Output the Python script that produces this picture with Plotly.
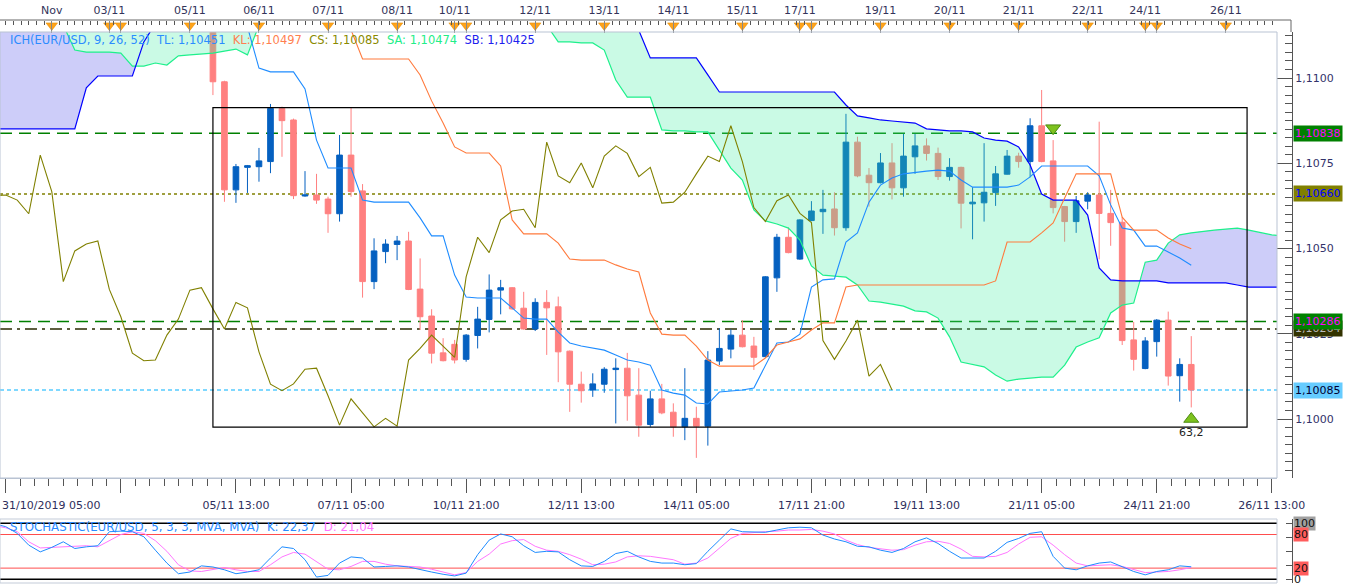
import numpy as np
import plotly.graph_objects as go

# EUR/USD H4 candles, index 0 = 05/11 05:00 (weekend gaps removed)
candle_idx = list(range(86))
opens = [1.11150, 1.10989, 1.10672, 1.10738, 1.10740, 1.10755, 1.10911, 1.10877, 1.10654, 1.10657,
         1.10645, 1.10602, 1.10774, 1.10669, 1.10403, 1.10491, 1.10512, 1.10522, 1.10381, 1.10302,
         1.10194, 1.10219, 1.10175, 1.10245, 1.10292, 1.10378, 1.10385, 1.10325, 1.10264, 1.10342,
         1.10329, 1.10199, 1.10102, 1.10085, 1.10102, 1.10145, 1.10149, 1.10070, 1.09984, 1.10059,
         1.10020, 1.09977, 1.10002, 1.09979, 1.10170, 1.10205, 1.10246, 1.10214, 1.10183, 1.10414,
         1.10533, 1.10469, 1.10582, 1.10608, 1.10616, 1.10561, 1.10812, 1.10715, 1.10693, 1.10751,
         1.10678, 1.10769, 1.10801, 1.10779, 1.10711, 1.10738, 1.10631, 1.10634, 1.10664, 1.10718,
         1.10771, 1.10755, 1.10860, 1.10757, 1.10623, 1.10579, 1.10639, 1.10657, 1.10603, 1.10577,
         1.10232, 1.10148, 1.10227, 1.10290, 1.10127, 1.10160]
highs = [1.11170, 1.10992, 1.10748, 1.10745, 1.10795, 1.10924, 1.10916, 1.10881, 1.10727, 1.10719,
         1.10652, 1.10833, 1.10913, 1.10689, 1.10530, 1.10527, 1.10537, 1.10549, 1.10471, 1.10322,
         1.10237, 1.10232, 1.10249, 1.10329, 1.10424, 1.10408, 1.10387, 1.10373, 1.10354, 1.10378,
         1.10359, 1.10201, 1.10139, 1.10134, 1.10152, 1.10178, 1.10194, 1.10149, 1.10083, 1.10103,
         1.10046, 1.10149, 1.10036, 1.10199, 1.10266, 1.10263, 1.10290, 1.10241, 1.10419, 1.10543,
         1.10562, 1.10586, 1.10639, 1.10672, 1.10665, 1.10895, 1.10828, 1.10736, 1.10780, 1.10809,
         1.10836, 1.10836, 1.10823, 1.10796, 1.10765, 1.10740, 1.10680, 1.10809, 1.10742, 1.10789,
         1.10781, 1.10882, 1.10965, 1.10818, 1.10625, 1.10654, 1.10665, 1.10872, 1.10672, 1.10593,
         1.10285, 1.10240, 1.10293, 1.10315, 1.10178, 1.10243]
lows = [1.10950, 1.10637, 1.10634, 1.10663, 1.10696, 1.10721, 1.10769, 1.10645, 1.10652, 1.10631,
        1.10546, 1.10579, 1.10652, 1.10356, 1.10381, 1.10457, 1.10466, 1.10378, 1.10261, 1.10163,
        1.10169, 1.10163, 1.10168, 1.10207, 1.10254, 1.10307, 1.10320, 1.10262, 1.10258, 1.10188,
        1.10108, 1.10021, 1.10048, 1.10065, 1.10077, 1.09987, 1.09995, 1.09948, 1.09977, 1.10014,
        1.09948, 1.09938, 1.09886, 1.09922, 1.10158, 1.10178, 1.10210, 1.10144, 1.10181, 1.10373,
        1.10486, 1.10467, 1.10580, 1.10543, 1.10538, 1.10552, 1.10709, 1.10623, 1.10691, 1.10644,
        1.10652, 1.10719, 1.10758, 1.10701, 1.10699, 1.10559, 1.10527, 1.10579, 1.10625, 1.10717,
        1.10737, 1.10709, 1.10753, 1.10603, 1.10520, 1.10546, 1.10615, 1.10468, 1.10508, 1.10217,
        1.10142, 1.10146, 1.10183, 1.10098, 1.10051, 1.10034]
closes = [1.10989, 1.10672, 1.10740, 1.10743, 1.10757, 1.10911, 1.10875, 1.10655, 1.10657, 1.10642,
          1.10602, 1.10774, 1.10667, 1.10403, 1.10493, 1.10513, 1.10522, 1.10380, 1.10300, 1.10193,
          1.10171, 1.10173, 1.10246, 1.10293, 1.10378, 1.10385, 1.10323, 1.10264, 1.10342, 1.10326,
          1.10197, 1.10102, 1.10083, 1.10103, 1.10146, 1.10149, 1.10068, 1.09982, 1.10059, 1.10018,
          1.09977, 1.10002, 1.09979, 1.10173, 1.10207, 1.10246, 1.10212, 1.10181, 1.10417, 1.10533,
          1.10488, 1.10584, 1.10610, 1.10615, 1.10561, 1.10812, 1.10713, 1.10693, 1.10751, 1.10678,
          1.10771, 1.10801, 1.10779, 1.10711, 1.10738, 1.10633, 1.10636, 1.10665, 1.10719, 1.10771,
          1.10755, 1.10860, 1.10755, 1.10620, 1.10579, 1.10640, 1.10657, 1.10603, 1.10576, 1.10230,
          1.10175, 1.10229, 1.10290, 1.10126, 1.10160, 1.10085]

# Ichimoku lines as displayed (tenkan from candle 3, kijun from candle 12)
tenkan_start = 3
tenkan = [1.11150, 1.11029, 1.11018, 1.11018, 1.11018, 1.10968, 1.10818, 1.10736, 1.10736, 1.10736,
          1.10642, 1.10636, 1.10636, 1.10636, 1.10636, 1.10590, 1.10537, 1.10537, 1.10422, 1.10358,
          1.10355, 1.10355, 1.10355, 1.10326, 1.10296, 1.10293, 1.10293, 1.10255, 1.10223, 1.10214,
          1.10208, 1.10202, 1.10188, 1.10173, 1.10167, 1.10158, 1.10085, 1.10076, 1.10070, 1.10047,
          1.10044, 1.10079, 1.10082, 1.10085, 1.10091, 1.10155, 1.10223, 1.10226, 1.10249, 1.10387,
          1.10408, 1.10411, 1.10519, 1.10546, 1.10636, 1.10686, 1.10707, 1.10719, 1.10724, 1.10727,
          1.10730, 1.10727, 1.10701, 1.10680, 1.10680, 1.10680, 1.10680, 1.10686, 1.10710, 1.10742,
          1.10742, 1.10742, 1.10742, 1.10742, 1.10713, 1.10628, 1.10560, 1.10554, 1.10507, 1.10507,
          1.10490, 1.10472, 1.10451]
kijun_start = 12
kijun = [1.11141, 1.11056, 1.11056, 1.11056, 1.11056, 1.11056, 1.11009, 1.10933, 1.10868, 1.10798,
         1.10780, 1.10780, 1.10780, 1.10742, 1.10584, 1.10543, 1.10543, 1.10543, 1.10516, 1.10469,
         1.10466, 1.10466, 1.10466, 1.10452, 1.10440, 1.10431, 1.10311, 1.10249, 1.10246, 1.10246,
         1.10214, 1.10173, 1.10155, 1.10155, 1.10155, 1.10155, 1.10179, 1.10217, 1.10226, 1.10235,
         1.10261, 1.10282, 1.10282, 1.10387, 1.10393, 1.10393, 1.10393, 1.10393, 1.10393, 1.10393,
         1.10393, 1.10393, 1.10393, 1.10393, 1.10393, 1.10393, 1.10405, 1.10519, 1.10519, 1.10519,
         1.10546, 1.10575, 1.10648, 1.10719, 1.10719, 1.10719, 1.10719, 1.10592, 1.10554, 1.10554,
         1.10554, 1.10531, 1.10513, 1.10499]

# senkou spans, index -19 .. 93 (values above 1.1115 run off the top of the chart)
span_start = -19
span_a = [1.11155, 1.11155, 1.11155, 1.11155, 1.11155, 1.11155, 1.11155, 1.11082, 1.11076, 1.11076,
          1.11076, 1.11073, 1.11035, 1.11035, 1.11044, 1.11038, 1.11065, 1.11068, 1.11071, 1.11073,
          1.11079, 1.11085, 1.11068, 1.11155, 1.11155, 1.11155, 1.11155, 1.11155, 1.11155, 1.11155,
          1.11155, 1.11155, 1.11155, 1.11155, 1.11155, 1.11155, 1.11155, 1.11155, 1.11155, 1.11155,
          1.11155, 1.11155, 1.11155, 1.11155, 1.11155, 1.11155, 1.11155, 1.11155, 1.11155, 1.11106,
          1.11106, 1.11103, 1.11103, 1.11082, 1.10994, 1.10944, 1.10944, 1.10944, 1.10848, 1.10845,
          1.10845, 1.10842, 1.10842, 1.10789, 1.10736, 1.10701, 1.10613, 1.10581, 1.10572, 1.10560,
          1.10525, 1.10449, 1.10422, 1.10419, 1.10416, 1.10393, 1.10346, 1.10343, 1.10337, 1.10331,
          1.10317, 1.10314, 1.10296, 1.10241, 1.10167, 1.10161, 1.10153, 1.10129, 1.10111, 1.10117,
          1.10120, 1.10123, 1.10123, 1.10158, 1.10211, 1.10226, 1.10238, 1.10311, 1.10334, 1.10340,
          1.10460, 1.10466, 1.10516, 1.10540, 1.10546, 1.10551, 1.10554, 1.10557, 1.10560, 1.10554,
          1.10546, 1.10540, 1.10537]
span_b = [1.10851, 1.10851, 1.10851, 1.10851, 1.10851, 1.10851, 1.10851, 1.10851, 1.10971, 1.11006,
          1.11006, 1.11006, 1.11006, 1.11106, 1.11160, 1.11160, 1.11160, 1.11160, 1.11160, 1.11160,
          1.11160, 1.11160, 1.11160, 1.11160, 1.11160, 1.11160, 1.11160, 1.11160, 1.11160, 1.11160,
          1.11160, 1.11160, 1.11160, 1.11160, 1.11160, 1.11160, 1.11160, 1.11160, 1.11160, 1.11160,
          1.11160, 1.11160, 1.11160, 1.11160, 1.11160, 1.11160, 1.11160, 1.11160, 1.11160, 1.11160,
          1.11160, 1.11160, 1.11160, 1.11160, 1.11160, 1.11160, 1.11140, 1.11059, 1.11059, 1.11059,
          1.11059, 1.11059, 1.11009, 1.10959, 1.10959, 1.10959, 1.10959, 1.10959, 1.10959, 1.10959,
          1.10959, 1.10959, 1.10959, 1.10959, 1.10921, 1.10889, 1.10883, 1.10877, 1.10874, 1.10871,
          1.10868, 1.10851, 1.10848, 1.10845, 1.10845, 1.10842, 1.10824, 1.10818, 1.10815, 1.10798,
          1.10745, 1.10660, 1.10642, 1.10642, 1.10642, 1.10598, 1.10443, 1.10408, 1.10405, 1.10405,
          1.10405, 1.10405, 1.10399, 1.10399, 1.10399, 1.10399, 1.10399, 1.10399, 1.10393, 1.10387,
          1.10387, 1.10387, 1.10387]
cloud_cap = 1.11170

# stochastic 5,3,3 from index -19
stoch_start = -19
stoch_k = [99, 94, 82, 61, 49, 57, 67, 55, 58, 60, 85, 86, 85, 76, 52, 29, 10, 13, 24,
           22, 17, 10, 13, 17, 38, 58, 55, 35, 4, 7, 29, 40, 38, 22, 23, 24, 22, 17, 13,
           9, 6, 11, 44, 70, 81, 76, 60, 48, 50, 49, 35, 24, 23, 32, 46, 50, 40, 32, 29,
           29, 26, 28, 50, 70, 90, 85, 84, 84, 88, 92, 93, 92, 79, 72, 67, 59, 58, 52, 48,
           55, 67, 74, 64, 50, 38, 38, 38, 50, 66, 73, 82, 85, 41, 20, 17, 24, 29, 31, 23,
           14, 8, 14, 17, 24, 22.37]
stoch_d = [96, 92, 85, 67, 56, 57, 58, 60, 60, 58, 69, 80, 85, 82, 69, 50, 26, 15, 14,
           17, 21, 17, 14, 14, 26, 40, 48, 45, 32, 18, 17, 23, 32, 32, 27, 24, 23, 22, 18,
           13, 8, 12, 32, 45, 63, 69, 71, 59, 52, 50, 44, 36, 26, 27, 31, 40, 42, 41, 38,
           35, 27, 29, 38, 55, 73, 82, 84, 85, 86, 88, 88, 89, 86, 81, 70, 62, 57, 54, 52,
           53, 61, 67, 68, 64, 54, 41, 40, 41, 48, 63, 75, 76, 61, 44, 29, 24, 25, 26, 23,
           17, 12, 13, 14, 17, 21.04]

# horizontal levels and their tag colours
levels = [1.10838, 1.10660, 1.10286, 1.10264, 1.10085]
level_text = ['1,10838', '1,10660', '1,10286', '1,10264', '1,10085']
level_color = ['#008000', '#808000', '#008000', '#2a2a00', '#55ccff']
level_dash = ['12px,7px', '3px,3px', '12px,7px', '12px,5px,3px,5px', '4px,3px']
tag_bg = ['#008000', '#808000', '#008000', '#333300', '#66ccff']
tag_fg = ['#ff00ff', '#0000ff', '#ff00ff', '#bbbbbb', '#000033']

box_x = [0, 89.85]
box_y = [1.09976, 1.10913]

# calendar events on the top strip
event_idx = [-14, -9, -8, -2, 4, 10, 16, 21, 22, 28, 34, 40, 46, 51, 52, 58, 64, 70, 76, 81, 82, 88]
event_lab = ['Nov', '03/11', '', '05/11', '06/11', '07/11', '08/11', '10/11', '', '12/11', '13/11',
             '14/11', '15/11', '17/11', '', '19/11', '20/11', '21/11', '22/11', '24/11', '', '26/11']

time_idx = [-18, -8, 2, 12, 22, 32, 42, 52, 62, 72, 82, 92]
time_lab = ['', '', '05/11 13:00', '07/11 05:00', '10/11 21:00', '12/11 13:00', '14/11 05:00',
            '17/11 21:00', '19/11 13:00', '21/11 05:00', '24/11 21:00', '26/11 13:00']

sig_down = ([73], [1.10853])
sig_up = ([85], [1.10000], ['63,2'])

X_RANGE = [-18.5, 92.45]
UP = '#0560c0'
DOWN = '#ff8080'
MINT = 'rgba(60,235,160,0.27)'
LILAC = 'rgba(90,90,235,0.30)'


def split_cloud(xs, a, b):
    d = np.asarray(a) - np.asarray(b)
    segs, cur = [], None
    for k in range(len(xs)):
        s = bool(d[k] >= 0)
        if cur is None:
            cur = [s, [xs[k]], [a[k]], [b[k]]]
            continue
        if s != cur[0]:
            t = d[k - 1] / (d[k - 1] - d[k])
            xc = xs[k - 1] + t * (xs[k] - xs[k - 1])
            yc = a[k - 1] + t * (a[k] - a[k - 1])
            cur[1].append(xc); cur[2].append(yc); cur[3].append(yc)
            segs.append(cur)
            cur = [s, [xc], [yc], [yc]]
        cur[1].append(xs[k]); cur[2].append(a[k]); cur[3].append(b[k])
    segs.append(cur)
    return segs


fig = go.Figure()

fig.add_trace(go.Candlestick(
    x=candle_idx, open=opens, high=highs, low=lows, close=closes,
    increasing=dict(line=dict(color=UP, width=1), fillcolor=UP),
    decreasing=dict(line=dict(color=DOWN, width=1), fillcolor=DOWN),
    whiskerwidth=0, hoverinfo='skip'))

span_x = list(range(span_start, span_start + len(span_a)))
segs = split_cloud(span_x, span_a, span_b)
for k, (above, xs, a, b) in enumerate(segs):
    if not above:
        # the platform keeps the band open up to the top before span B re-enters
        b = [cloud_cap if x <= -6 else v for x, v in zip(xs, b)]
    fig.add_trace(go.Scatter(x=xs + xs[::-1], y=a + b[::-1], fill='toself', mode='none',
                             fillcolor=LILAC if above else MINT, hoverinfo='skip'))
    if k == 0:
        xa = [x for x in xs if x >= -13]
        ya = [v for x, v in zip(xs, a) if x >= -13]
        fig.add_trace(go.Scatter(x=xa + xa[::-1], y=ya + [cloud_cap] * len(xa), fill='toself',
                                 mode='none', fillcolor=MINT, hoverinfo='skip'))

fig.add_trace(go.Scatter(x=span_x, y=span_a, mode='lines', line=dict(color='#1ef08c', width=1.2)))
fig.add_trace(go.Scatter(x=span_x, y=span_b, mode='lines', line=dict(color='#0000ff', width=1.2)))
fig.add_trace(go.Scatter(x=list(range(tenkan_start, tenkan_start + len(tenkan))), y=tenkan,
                         mode='lines', line=dict(color='#1e8cff', width=1.1)))
fig.add_trace(go.Scatter(x=list(range(kijun_start, kijun_start + len(kijun))), y=kijun,
                         mode='lines', line=dict(color='#ff7a3d', width=1.1)))
fig.add_trace(go.Scatter(x=[i - 26 for i in candle_idx], y=closes, mode='lines',
                         line=dict(color='#808000', width=1.1)))

fig.add_trace(go.Scatter(x=sig_down[0], y=sig_down[1], mode='markers',
                         marker=dict(symbol='triangle-down', size=13, color='#7dc21e',
                                     line=dict(color='#4d8a12', width=1))))
fig.add_trace(go.Scatter(x=sig_up[0], y=sig_up[1], mode='markers+text', text=sig_up[2],
                         textposition='bottom center', textfont=dict(size=11, color='#222222'),
                         marker=dict(symbol='triangle-up', size=13, color='#7dc21e',
                                     line=dict(color='#4d8a12', width=1)), cliponaxis=False))

stoch_x = list(range(stoch_start, stoch_start + len(stoch_k)))
fig.add_trace(go.Scatter(x=stoch_x, y=stoch_d, mode='lines', line=dict(color='#ff77ff', width=1),
                         xaxis='x2', yaxis='y2'))
fig.add_trace(go.Scatter(x=stoch_x, y=stoch_k, mode='lines', line=dict(color='#1e8cff', width=1),
                         xaxis='x2', yaxis='y2'))

fig.add_trace(go.Scatter(x=event_idx, y=[0.55] * len(event_idx), mode='markers', xaxis='x3', yaxis='y3',
                         marker=dict(symbol='triangle-down', size=10, color='#ffa31a',
                                     line=dict(color='#e08a00', width=0.5)), cliponaxis=False))

shapes = []
for lv, c, dsh in zip(levels, level_color, level_dash):
    shapes.append(dict(type='line', xref='x domain', x0=0, x1=1, yref='y', y0=lv, y1=lv,
                       line=dict(color=c, width=1.4, dash=dsh), layer='below'))
shapes.append(dict(type='rect', xref='x', x0=box_x[0], x1=box_x[1], yref='y', y0=box_y[0], y1=box_y[1],
                   line=dict(color='black', width=1.2), layer='above'))
shapes.append(dict(type='rect', xref='x domain', x0=0, x1=1, yref='y domain', y0=0, y1=1,
                   line=dict(color='#b9c3d3', width=1), layer='above'))
shapes.append(dict(type='rect', xref='x2 domain', x0=0, x1=1, yref='y2 domain', y0=0, y1=1,
                   line=dict(color='#c3cbd8', width=1), layer='above'))
for lv, c, w in [(100, 'black', 1.6), (0, 'black', 1.6), (80, '#ff4d4d', 1), (20, '#ff4d4d', 1)]:
    shapes.append(dict(type='line', xref='x2 domain', x0=0, x1=1, yref='y2', y0=lv, y1=lv,
                       line=dict(color=c, width=w), layer='below'))
shapes.append(dict(type='line', xref='paper', x0=0, x1=1291 / 1292, yref='paper', y0=568 / 588, y1=568 / 588,
                   line=dict(color='#666666', width=1)))
shapes.append(dict(type='line', xref='paper', x0=1291 / 1292, x1=1291 / 1292, yref='paper',
                   y0=556 / 588, y1=568 / 588, line=dict(color='#666666', width=1)))

ann = []
ich = ('<span style="color:#2b8cff">ICH(EUR/USD, 9, 26, 52)\u00a0\u00a0TL: 1,10451</span>\u00a0\u00a0'
       '<span style="color:#ff7f50">KL: 1,10497</span>\u00a0\u00a0'
       '<span style="color:#8a8a00">CS: 1,10085</span>\u00a0\u00a0'
       '<span style="color:#22ee88">SA: 1,10474</span>\u00a0\u00a0'
       '<span style="color:#2020ee">SB: 1,10425</span>')
ann.append(dict(xref='paper', x=8 / 1292, yref='paper', y=(588 - 40) / 588, text=ich, showarrow=False,
                xanchor='left', yanchor='middle', font=dict(size=11.5)))
sto = ('<span style="color:#2b8cff">STOCHASTIC(EUR/USD, 5, 3, 3, MVA, MVA)\u00a0\u00a0K: 22,37</span>'
       '\u00a0\u00a0<span style="color:#ff77ff">D: 21,04</span>')
ann.append(dict(xref='paper', x=8 / 1292, yref='paper', y=(588 - 527) / 588, text=sto, showarrow=False,
                xanchor='left', yanchor='middle', font=dict(size=11.8)))
ann.append(dict(xref='paper', x=0, yref='paper', y=(588 - 505) / 588, text='31/10/2019 05:00',
                showarrow=False, xanchor='left', yanchor='middle', font=dict(size=11, color='#2e2e5c')))
order = [0, 1, 3, 2, 4]
for k in order:
    ann.append(dict(xref='paper', x=1, xshift=1, yref='y', y=levels[k], text=level_text[k], showarrow=False,
                    xanchor='left', yanchor='middle', bgcolor=tag_bg[k], borderpad=1,
                    font=dict(size=11, color=tag_fg[k])))
for v, t, bg in [(100, '100', '#a0a0a0'), (80, '80', '#ff5c5c'), (20, '20', '#ff5c5c'), (0, '0', None)]:
    a = dict(xref='paper', x=1, xshift=1, yref='y2', y=v, text=t, showarrow=False, xanchor='left',
             yanchor='middle', borderpad=0, font=dict(size=11, color='#111111'))
    if bg:
        a['bgcolor'] = bg
    ann.append(a)

fig.update_layout(
    width=1349, height=588, margin=dict(l=0, r=57, t=0, b=0, autoexpand=False),
    paper_bgcolor='white', plot_bgcolor='white', showlegend=False, hovermode=False,
    font=dict(family='DejaVu Sans', size=11, color='#33335a'),
    separators=', ', boxgap=0.3,
    xaxis=dict(domain=[0, 1277 / 1292], range=X_RANGE, anchor='y', rangeslider=dict(visible=False),
               automargin=False, showgrid=False, zeroline=False, showline=True, linecolor='#b9c3d3',
               tickmode='array', tickvals=time_idx, ticktext=time_lab, ticks='outside', ticklen=14,
               tickcolor='#555555', ticklabelstandoff=3, tickfont=dict(color='#2e2e5c'),
               minor=dict(tickmode='linear', tick0=2, dtick=1.25, ticks='outside', ticklen=7,
                          tickcolor='#555555')),
    yaxis=dict(domain=[110 / 588, 556 / 588], range=[1.09827, 1.11135], anchor='free', position=1,
               automargin=False, side='right', showgrid=False, zeroline=False, showline=True,
               linecolor='#555555', tick0=1.1, dtick=0.0025, tickformat='.4f', ticks='inside', ticklen=15,
               tickcolor='#555555', tickfont=dict(color='#33336a'),
               minor=dict(tick0=1.1, dtick=0.00025, ticks='inside', ticklen=7, tickcolor='#555555')),
    xaxis2=dict(domain=[0, 1277 / 1292], range=X_RANGE, anchor='y2', automargin=False, showgrid=False,
                zeroline=False, showticklabels=False, ticks=''),
    yaxis2=dict(domain=[5 / 588, 69 / 588], range=[-6.6, 107.7], anchor='free', position=1, side='right',
                automargin=False, showgrid=False, zeroline=False, showline=True, linecolor='#555555',
                tickvals=[0, 25, 50, 75, 100], ticks='inside', ticklen=6, tickcolor='#555555',
                showticklabels=False),
    xaxis3=dict(domain=[0, 1277 / 1292], side='top', anchor='free', position=568 / 588, range=X_RANGE,
                automargin=False, showgrid=False, zeroline=False, showline=False,
                tickmode='array', tickvals=event_idx, ticktext=event_lab, ticks='inside', ticklen=12,
                tickcolor='#888888', ticklabelstandoff=4, tickfont=dict(color='#33335a'),
                minor=dict(tickmode='linear', tick0=-14, dtick=0.667, ticks='inside', ticklen=4,
                           tickcolor='#555555')),
    yaxis3=dict(domain=[556 / 588, 568 / 588], range=[0, 1], anchor='x3', visible=False),
    shapes=shapes, annotations=ann,
)

# the page body has a default 8px margin; drop it so the figure sits at the window corner
fig.write_html("out.html", config={'displayModeBar': False},
               post_script="document.body.style.margin='0';")
